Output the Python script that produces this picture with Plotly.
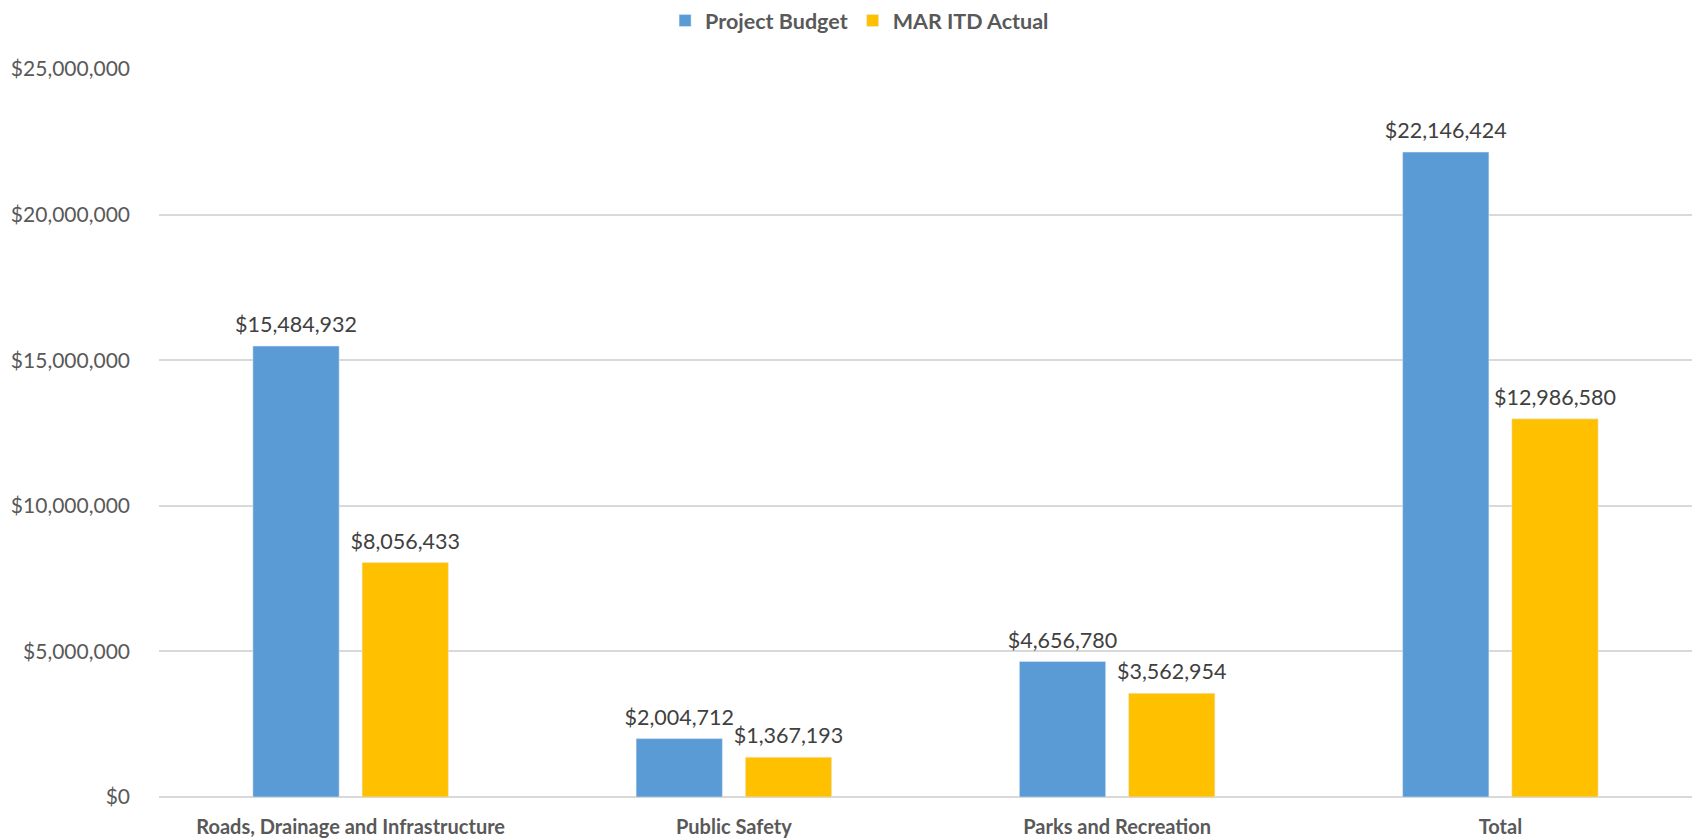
import plotly.graph_objects as go

categories = ["Roads, Drainage and Infrastructure", "Public Safety", "Parks and Recreation", "Total"]
project_budget = [15484932, 2004712, 4656780, 22146424]
mar_itd_actual = [8056433, 1367193, 3562954, 12986580]

FONT = "Lato, 'Open Sans', sans-serif"
TXT = "#595959"
LBL = "#404040"

series = [("Project Budget", project_budget, "#5B9BD5", "g1"),
          ("MAR ITD Actual", mar_itd_actual, "#FFC000", "g2")]

fig = go.Figure()
for name, vals, col, grp in series:
    fig.add_trace(go.Bar(
        name=name, x=categories, y=vals, marker_color=col,
        offsetgroup=grp, hoverinfo="x+y",
    ))
for name, vals, col, grp in series:
    fig.add_trace(go.Scatter(
        x=categories, y=vals, mode="markers+text", offsetgroup=grp,
        marker=dict(size=12, opacity=0, color=col),
        texttemplate="$%{y:,.0f}", textposition="top center",
        textfont=dict(family=FONT, size=21.5, color=LBL),
        showlegend=False, hoverinfo="skip", cliponaxis=False,
    ))

fig.update_layout(
    width=1696, height=840,
    margin=dict(l=159, r=4, t=69, b=43),
    plot_bgcolor="white", paper_bgcolor="white",
    barmode="group", bargap=0.43, bargroupgap=0.21,
    scattermode="group", scattergap=0.43,
    font=dict(family=FONT, color=TXT),
    legend=dict(
        orientation="h", x=0.457, xanchor="center",
        yref="container", y=1.0, yanchor="top",
        font=dict(family=FONT, size=21.5, color=TXT, weight="bold"),
        traceorder="normal",
    ),
    yaxis=dict(
        range=[0, 25000000], dtick=5000000, tickformat="$,.0f",
        showgrid=True, gridcolor="#D9D9D9", gridwidth=1.5,
        zeroline=True, zerolinecolor="#D9D9D9", zerolinewidth=1.5,
        tickfont=dict(family=FONT, size=21, color=TXT),
        ticks="", ticklabelstandoff=28, fixedrange=True, automargin=False,
    ),
    xaxis=dict(
        tickfont=dict(family=FONT, size=20, color=TXT, weight="bold"),
        showline=False, ticks="", automargin=False, ticklabelstandoff=16,
    ),
)

fig.write_html(
    "out.html",
    config={"displayModeBar": False},
    post_script="document.body.style.margin='0';document.body.style.overflow='hidden';",
)
